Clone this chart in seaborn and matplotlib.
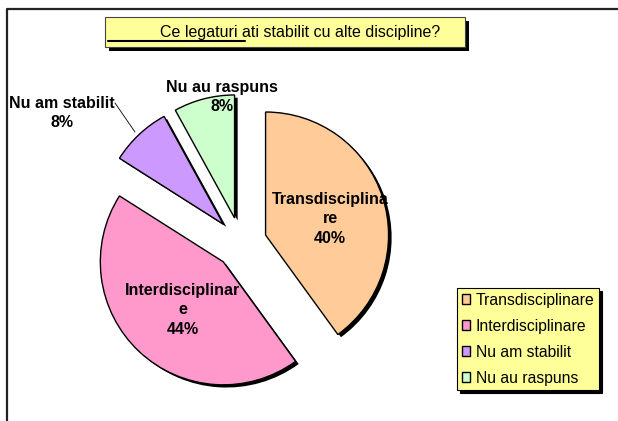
import matplotlib
matplotlib.use("Agg")
import matplotlib.pyplot as plt
from matplotlib.patches import Rectangle
from matplotlib.lines import Line2D
import seaborn as sns

# data
categories = ['Transdisciplinare', 'Interdisciplinare', 'Nu am stabilit', 'Nu au raspuns']
percent = [40, 44, 8, 8]
slice_labels = ['Transdisciplina\nre\n40%', 'Interdisciplinar\ne\n44%', 'Nu am stabilit\n8%', 'Nu au raspuns\n8%']
slice_colors = ['#FFCC99', '#FF99CC', '#CC99FF', '#CCFFCC']
title = 'Ce legaturi ati stabilit cu alte discipline?'

sns.set_theme(style="white")
plt.rcParams['font.family'] = ['Liberation Sans', 'DejaVu Sans']
plt.rcParams['text.color'] = 'black'
palette = sns.color_palette(slice_colors)

W, H = 618, 421
fig = plt.figure(figsize=(W / 100, H / 100), dpi=100)
fig.patch.set_facecolor('white')

# pie centre / radius in pixels
cx, cy, R = 241, 243, 123
ax = fig.add_axes([0, 0, 1, 1])


def px(x, y):
    # pixel (from top-left) -> figure fraction
    return x / W, 1 - y / H


explode = [0.21] * 4
# shadow pie
ax.pie(percent, explode=explode, startangle=90, counterclock=False,
       colors=['black'] * 4, center=(0.025, -0.022), radius=1,
       wedgeprops=dict(linewidth=0))
wedges, _ = ax.pie(percent, explode=explode, startangle=90, counterclock=False,
                   colors=palette, center=(0, 0), radius=1,
                   wedgeprops=dict(edgecolor='black', linewidth=1))
ax.set_aspect('auto')
ax.set_xlim(-cx / R, (W - cx) / R)
ax.set_ylim(-(H - cy) / R, cy / R)
ax.axis('off')

# slice labels (pixel positions of label centres)
label_px = [(330, 219), (183, 310), (62, 113), (222, 97)]
for (x, y), lab in zip(label_px, slice_labels):
    fig.text(*px(x, y), lab, ha='center', va='center', fontsize=11.5,
             fontweight='bold', linespacing=1.4, color='black')
fig.add_artist(Line2D([115 / W, 135 / W], [1 - 103 / H, 1 - 132 / H],
                      transform=fig.transFigure, color='black', lw=0.6))

# outer frame
fig.add_artist(Line2D([7 / W, 7 / W, 1], [0, 1 - 9 / H, 1 - 9 / H],
                      transform=fig.transFigure, color='#222222', lw=1.6))

# title box with shadow
tx0, ty0, tx1, ty1 = 105, 17, 465, 47
fig.add_artist(Rectangle(px(tx0 + 4, ty1 + 4), (tx1 - tx0) / W, (ty1 - ty0) / H,
                         transform=fig.transFigure, facecolor='black', edgecolor='none'))
fig.add_artist(Rectangle(px(tx0, ty1), (tx1 - tx0) / W, (ty1 - ty0) / H,
                         transform=fig.transFigure, facecolor='#FFFF99',
                         edgecolor='#444444', lw=0.8))
fig.text(*px(300, 33), title, ha='center', va='center', fontsize=11.5, color='black')
fig.add_artist(Line2D([108 / W, 245 / W], [1 - 41 / H, 1 - 41 / H],
                      transform=fig.transFigure, color='black', lw=1.5))

# legend
leg = ax.legend(wedges, categories, loc='upper left',
                bbox_to_anchor=px(457, 288), bbox_transform=fig.transFigure,
                borderaxespad=0, fontsize=11.3, frameon=True, fancybox=False,
                shadow={'color': 'black', 'alpha': 1},
                facecolor='#FFFF99', edgecolor='black', framealpha=1,
                handlelength=0.55, handleheight=0.55, handletextpad=0.35,
                labelspacing=0.7, borderpad=0.3, labelcolor='black')
leg.get_frame().set_linewidth(0.8)
for h in leg.legend_handles:
    h.set_edgecolor('black')
    h.set_linewidth(1)

fig.savefig('out.png', dpi=100)
